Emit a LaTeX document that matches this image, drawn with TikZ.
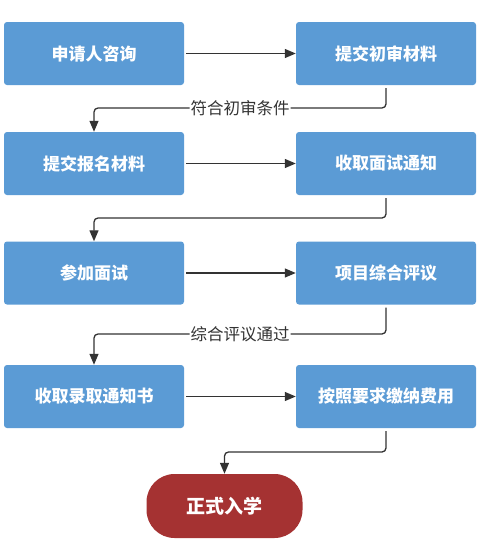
\documentclass[tikz,border=0pt]{standalone}
\usepackage{fontspec}
\newfontfamily\cjk{Noto Sans CJK SC}
\usetikzlibrary{arrows.meta}
\definecolor{boxblue}{HTML}{5B9BD5}
\definecolor{termred}{HTML}{A53232}
\definecolor{linec}{HTML}{333333}
\begin{document}
\begin{tikzpicture}[x=1pt,y=-1pt,
  stepbox/.style={fill=boxblue, rounded corners=3pt, minimum width=180pt, minimum height=63pt, inner sep=0pt,
    text=white, font=\cjk\bfseries\fontsize{17}{20}\selectfont},
  termbox/.style={fill=termred, rounded corners=28pt, minimum width=156pt, minimum height=64pt, inner sep=0pt,
    text=white, font=\cjk\bfseries\fontsize{19}{22}\selectfont},
  conn/.style={draw=linec, line width=1.3pt, rounded corners=4pt, -{Triangle[length=11pt,width=9pt]}},
  lbl/.style={fill=white, inner sep=1pt, text=linec, font=\cjk\fontsize{16.5}{20}\selectfont}]
\useasboundingbox (0,0) rectangle (482,546);
\node[stepbox] (a1) at (94,53.5) {申请人咨询};
\node[stepbox] (b1) at (386,53.5) {提交初审材料};
\node[stepbox] (a2) at (94,163.5) {提交报名材料};
\node[stepbox] (b2) at (386,163.5) {收取面试通知};
\node[stepbox] (a3) at (94,273) {参加面试};
\node[stepbox] (b3) at (386,273) {项目综合评议};
\node[stepbox] (a4) at (94,396.5) {收取录取通知书};
\node[stepbox] (b4) at (386,396.5) {按照要求缴纳费用};
\node[termbox] (t) at (224.5,506) {正式入学};

\draw[conn] ([xshift=2pt]a1.east) -- (b1.west);
\draw[conn] ([xshift=2pt]a2.east) -- (b2.west);
\draw[conn] ([xshift=2pt]a3.east) -- (b3.west);
\draw[conn] ([xshift=2pt]a4.east) -- (b4.west);

\draw[conn] ([yshift=-3pt]b1.south) -- (b1.south |- 0,108) -- node[lbl]{符合初审条件} (a2.north |- 0,108) -- (a2.north);
\draw[conn] ([yshift=-3pt]b2.south) -- (b2.south |- 0,218) -- (a3.north |- 0,218) -- (a3.north);
\draw[conn] ([yshift=-3pt]b3.south) -- (b3.south |- 0,334) -- node[lbl]{综合评议通过} (a4.north |- 0,334) -- (a4.north);
\draw[conn] ([yshift=-3pt]b4.south) -- (b4.south |- 0,452) -- (t.north |- 0,452) -- (t.north);
\end{tikzpicture}
\end{document}
